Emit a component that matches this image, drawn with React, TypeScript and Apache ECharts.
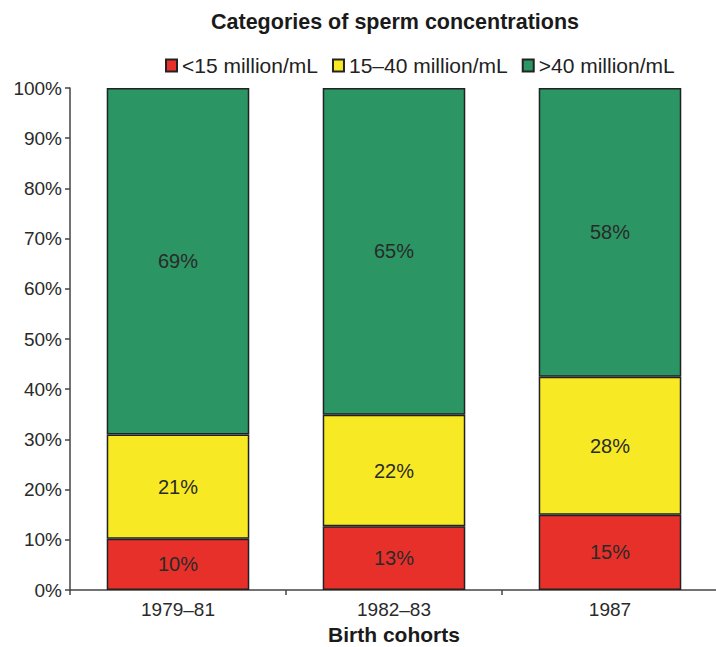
import React, { useEffect, useRef } from "react";
import * as echarts from "echarts";

const categories = ["1979–81", "1982–83", "1987"];
const lowValues = [10.2, 12.7, 15.0];
const midValues = [20.8, 22.2, 27.5];
const highValues = [69.0, 65.1, 57.5];
const seriesNames = ["<15 million/mL", "15–40 million/mL", ">40 million/mL"];
const colors = ["#e8302b", "#f7ea24", "#2b9564"];

const FONT = "Liberation Sans, Arial, Helvetica, sans-serif";

export default function App() {
  const ref = useRef<HTMLDivElement>(null);
  useEffect(() => {
    if (!ref.current) return;
    const chart = echarts.init(ref.current, undefined, { renderer: "svg" });
    const mk = (name: string, data: number[], color: string) => ({
      name,
      type: "bar",
      stack: "total",
      data,
      barWidth: "66%",
      itemStyle: { color, borderColor: "#222", borderWidth: 1.5 },
      label: {
        show: true,
        position: "inside",
        color: "#2a2a2a",
        fontSize: 20,
        fontFamily: FONT,
        formatter: (p: any) => Math.round(p.value) + "%",
      },
    });
    chart.setOption({
      animation: false,
      textStyle: { fontFamily: FONT },
      title: {
        text: "Categories of sperm concentrations",
        left: 390,
        top: 6,
        textAlign: "center",
        textStyle: { fontSize: 21.5, fontWeight: "bold", color: "#1a1a1a", fontFamily: FONT },
      },
      legend: {
        left: 160,
        top: 50,
        itemWidth: 11,
        itemHeight: 12,
        itemGap: 14,
        icon: "rect",
        data: seriesNames,
        textStyle: { fontSize: 21, color: "#222", fontFamily: FONT },
      },
      grid: { left: 70, right: -2, top: 88, bottom: 57, outerBoundsMode: "none" },
      xAxis: {
        type: "category",
        data: categories,
        name: "Birth cohorts",
        nameLocation: "middle",
        nameGap: 30,
        nameTextStyle: { fontSize: 21, fontWeight: "bold", color: "#1a1a1a", fontFamily: FONT },
        axisLine: { lineStyle: { color: "#444", width: 1.5 } },
        axisTick: { show: true, length: 5, lineStyle: { color: "#444", width: 1.5 } },
        axisLabel: { fontSize: 19, color: "#2a2a2a", margin: 10, fontFamily: FONT },
      },
      yAxis: {
        type: "value",
        min: 0,
        max: 100,
        interval: 10,
        splitLine: { show: false },
        axisLine: { show: true, lineStyle: { color: "#444", width: 1.5 } },
        axisTick: { show: true, length: 5, lineStyle: { color: "#444", width: 1.5 } },
        axisLabel: { fontSize: 19, color: "#2a2a2a", margin: 8, formatter: "{value}%", fontFamily: FONT },
      },
      series: [
        mk(seriesNames[0], lowValues, colors[0]),
        mk(seriesNames[1], midValues, colors[1]),
        mk(seriesNames[2], highValues, colors[2]),
      ],
    });
    return () => chart.dispose();
  }, []);
  return (
    <div
      ref={ref}
      style={{ position: "fixed", left: 0, top: 0, width: 716, height: 647, background: "#fff" }}
    />
  );
}
